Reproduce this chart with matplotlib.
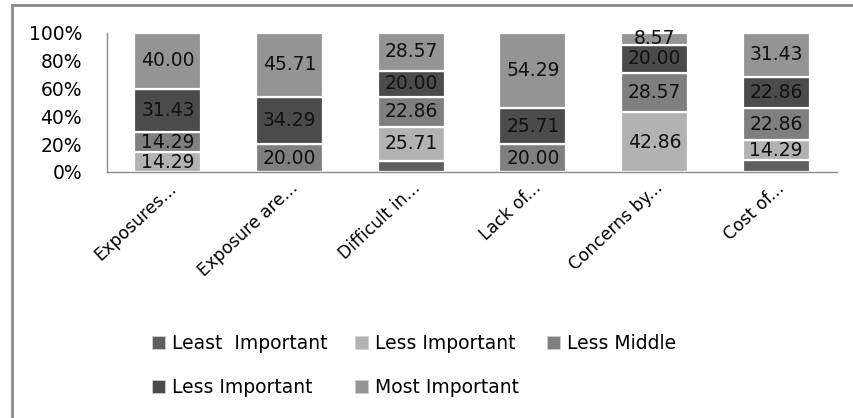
import matplotlib
matplotlib.use("Agg")
import matplotlib.pyplot as plt
import matplotlib.transforms as mtransforms
from matplotlib.lines import Line2D
from matplotlib.patches import Patch
import numpy as np

categories = ["Exposures...", "Exposure are...", "Difficult in...",
              "Lack of...", "Concerns by...", "Cost of..."]
least_important = [0.00, 0.00, 8.57, 0.00, 0.00, 8.57]
less_important = [14.29, 0.00, 25.71, 0.00, 42.86, 14.29]
less_middle = [14.29, 20.00, 22.86, 20.00, 28.57, 22.86]
less_important_2 = [31.43, 34.29, 20.00, 25.71, 20.00, 22.86]
most_important = [40.00, 45.71, 28.57, 54.29, 8.57, 31.43]

series_names = ["Least  Important", "Less Important", "Less Middle",
                "Less Important", "Most Important"]
series_colors = ["#5e5e5e", "#b2b2b2", "#7f7f7f", "#4b4b4b", "#949494"]
series_labelled = [False, True, True, True, True]

y_ticks = [0, 20, 40, 60, 80, 100]
y_tick_labels = ["0%", "20%", "40%", "60%", "80%", "100%"]

FONT = ["DejaVu Sans"]
plt.rcParams["font.family"] = FONT
FS = 13.5

W, H = 854, 418
fig = plt.figure(figsize=(W / 100, H / 100), dpi=100)
ax = fig.add_axes([107 / W, 1 - 172 / H, (837 - 107) / W, (172 - 33) / H])

series = [least_important, less_important, less_middle,
          less_important_2, most_important]
data = np.array(series, dtype=float)
totals = data.sum(axis=0)
shares = data / totals * 100  # 100% stacked

x = np.arange(len(categories))
bottom = np.zeros(len(categories))
handles = []
for vals, share, name, color, lab in zip(data, shares, series_names,
                                         series_colors, series_labelled):
    ax.bar(x, share, width=0.55, bottom=bottom, color=color,
           edgecolor="white", linewidth=1.6, zorder=2)
    if lab:
        for xi, v, s, b in zip(x, vals, share, bottom):
            if v > 0:
                ax.text(xi, b + s / 2, f"{v:.2f}", ha="center", va="center",
                        fontsize=FS, color="#111111", zorder=3)
    bottom = bottom + share
    handles.append(Patch(facecolor=color, edgecolor="#d0d0d0", linewidth=0.6))

ax.set_xlim(-0.5, len(categories) - 0.5)
ax.set_ylim(0, 100)
ax.set_yticks(y_ticks)
ax.set_yticklabels(y_tick_labels, fontsize=FS)
ax.set_xticks(x)
ax.set_xticklabels(categories, rotation=43, ha="right",
                   rotation_mode="anchor", fontsize=12.3)
offset = mtransforms.ScaledTranslation(19 / 100, 0, fig.dpi_scale_trans)
for t in ax.get_xticklabels():
    t.set_transform(t.get_transform() + offset)
ax.tick_params(axis="both", length=0)
ax.tick_params(axis="y", pad=18)
ax.tick_params(axis="x", pad=5)
for side in ("top", "right"):
    ax.spines[side].set_visible(False)
for side in ("left", "bottom"):
    ax.spines[side].set_color("#8a8a8a")
    ax.spines[side].set_linewidth(1.0)

# legend laid out row-wise in three columns
order = [0, 3, 1, 4, 2]
fig.legend([handles[i] for i in order], [series_names[i] for i in order],
           ncol=3, loc="upper left", bbox_to_anchor=(152 / W, 1 - 334 / H),
           frameon=False, fontsize=FS, handlelength=0.7, handleheight=0.7,
           handletextpad=0.35, columnspacing=1.5, labelspacing=1.35,
           borderpad=0, borderaxespad=0)

# outer chart border
frame_kw = dict(color="#8a8a8a", linewidth=2.0, transform=fig.transFigure)
fig.add_artist(Line2D([12 / W, 12 / W], [0, 1 - 5 / H], **frame_kw))
fig.add_artist(Line2D([12 / W, 1], [1 - 5 / H, 1 - 5 / H], **frame_kw))

fig.savefig("out.png", dpi=100, facecolor="white")
